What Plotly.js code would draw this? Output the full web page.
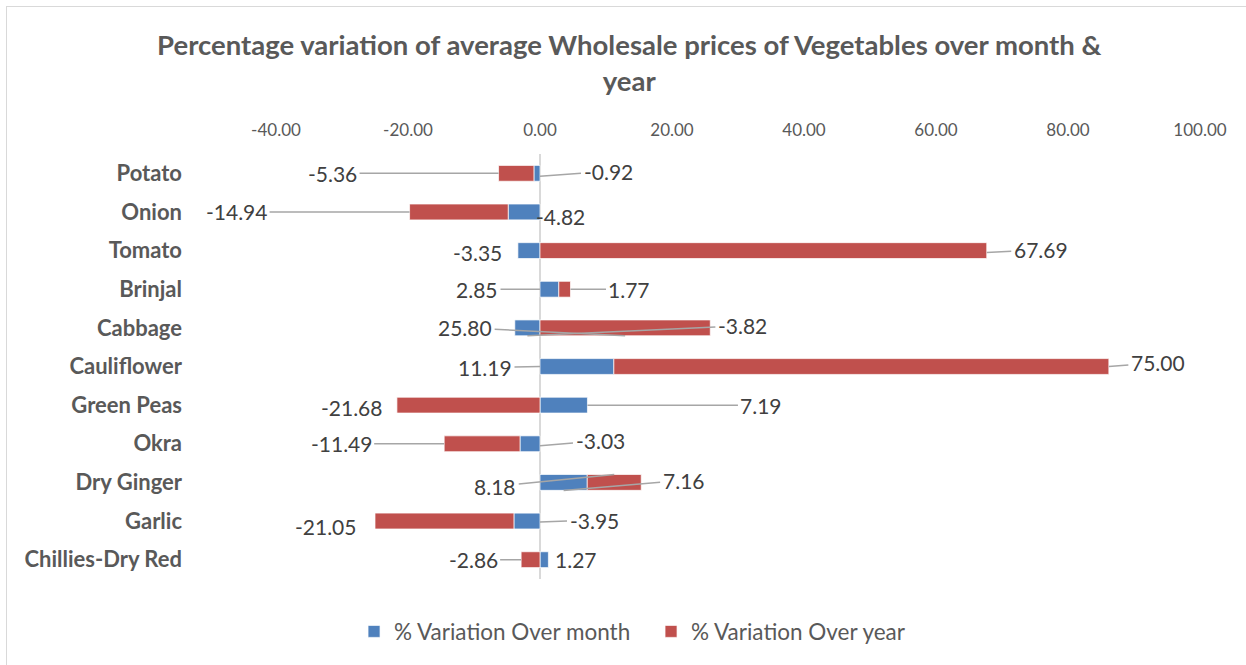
<!DOCTYPE html>
<html>
<head>
<meta charset="utf-8">
<script src="https://cdn.plot.ly/plotly-3.0.1.min.js"></script>
<style>
  html, body { margin: 0; padding: 0; background: #ffffff; }
  #chart { width: 1246px; height: 665px; }
  #frame { position: absolute; left: 6px; top: 6px; width: 1300px; height: 700px;
           border-left: 1px solid #d9d9d9; border-top: 1px solid #d9d9d9; pointer-events: none; }
</style>
</head>
<body>
<div id="chart"></div>
<div id="frame"></div>
<script>
// ---- data ----
const categories = ["Potato", "Onion", "Tomato", "Brinjal", "Cabbage", "Cauliflower",
                    "Green Peas", "Okra", "Dry Ginger", "Garlic", "Chillies-Dry Red"];
const overMonth = [-0.92, -4.82, -3.35, 2.85, -3.82, 11.19, 7.19, -3.03, 7.16, -3.95, 1.27];
const overYear  = [-5.36, -14.94, 67.69, 1.77, 25.80, 75.00, -21.68, -11.49, 8.18, -21.05, -2.86];
const seriesNames = ["% Variation Over month", "% Variation Over year"];
const tickValues = [-40, -20, 0, 20, 40, 60, 80, 100];

// ---- label placement (style: anchor fraction along the bar segment, pixel offsets, leader line) ----
// [frac, anchorDy(px, down), ax, ay, line]
const monthLabelPos = [
  [0, 3, 68, -5, true],
  [1, 0, 52, 5, false],
  [1, 0, -40, 2, false],
  [0, 0, -63, 0, true],
  [0.5, 8, 215, -10, true],
  [0, 0, -55, 1, true],
  [1, 0, 174, 0, true],
  [0, 2, 60, -5, true],
  [0.5, 8, 120, -10, true],
  [0, 1, 54, -2, true],
  [1, 0, 28, 0, false]
];
const yearLabelPos = [
  [1, 0, -166, 0, true],
  [1, 0, -173, 0, true],
  [1, 2, 54, -3, true],
  [1, 0, 59, 0, true],
  [0.5, 8, -160, -8, true],
  [1, 0, 49, -4, true],
  [1, 0, -45, 2, false],
  [1, 0, -103, 0, true],
  [0.5, -8, -119, 12, true],
  [1, 0, -50, 5, false],
  [1, 0, -48, 0, true]
];

const BLUE = "#4F81BD", RED = "#C0504D";
const FONT = "Lato, 'Open Sans', sans-serif";

// segment bases (relative stacking: positives and negatives stack separately)
const monthBase = overMonth.map(() => 0);
const yearBase = overYear.map((v, i) => {
  const m = overMonth[i];
  return (Math.sign(v) === Math.sign(m)) ? m : 0;
});

const annotations = [];
function addLabels(values, bases, pos) {
  values.forEach((v, i) => {
    const p = pos[i];
    annotations.push({
      x: bases[i] + p[0] * v,
      y: categories[i],
      xref: "x", yref: "y",
      text: v.toFixed(2),
      showarrow: true,
      arrowhead: 0,
      arrowwidth: 1.5,
      arrowcolor: p[4] ? "#a6a6a6" : "rgba(0,0,0,0)",
      standoff: 0,
      ax: p[2], ay: p[3],
      axref: "pixel", ayref: "pixel",
      yshift: -p[1],
      font: { family: FONT, size: 21, color: "#404040" },
      borderpad: 2
    });
  });
}
addLabels(overMonth, monthBase, monthLabelPos);
addLabels(overYear, yearBase, yearLabelPos);

const traces = [
  {
    type: "bar", orientation: "h", name: seriesNames[0],
    y: categories, x: overMonth,
    marker: { color: BLUE, line: { color: "rgba(255,255,255,0.7)", width: 1 } },
    hoverinfo: "x+y"
  },
  {
    type: "bar", orientation: "h", name: seriesNames[1],
    y: categories, x: overYear,
    marker: { color: RED, line: { color: "rgba(255,255,255,0.7)", width: 1 } },
    hoverinfo: "x+y"
  }
];

const layout = {
  width: 1246, height: 665,
  paper_bgcolor: "#ffffff", plot_bgcolor: "#ffffff",
  margin: { l: 276, r: 46, t: 154, b: 86 },
  barmode: "relative",
  bargap: 0.59,
  title: {
    text: "Percentage variation of average Wholesale prices of Vegetables over month &<br>year",
    font: { family: FONT, size: 27.5, color: "#595959", weight: "bold" },
    xref: "container", x: 0.505, xanchor: "center",
    yref: "container", y: 0.917, yanchor: "top"
  },
  xaxis: {
    side: "top",
    range: [-40, 100],
    tickvals: tickValues,
    ticktext: tickValues.map(v => v.toFixed(2)),
    showgrid: false,
    zeroline: true, zerolinecolor: "#d9d9d9", zerolinewidth: 1.5,
    showline: false,
    ticks: "",
    ticklabelstandoff: 14,
    tickfont: { family: FONT, size: 17, color: "#595959" },
    fixedrange: true
  },
  yaxis: {
    type: "category",
    categoryorder: "array", categoryarray: categories,
    autorange: "reversed",
    showgrid: false, zeroline: false, showline: false,
    ticks: "",
    ticklabelstandoff: 93,
    tickfont: { family: FONT, size: 22, color: "#595959", weight: "bold" },
    fixedrange: true
  },
  legend: {
    orientation: "h",
    xref: "container", x: 0.5225, xanchor: "center",
    yref: "container", y: 0.05, yanchor: "middle",
    font: { family: FONT, size: 22.5, color: "#595959" },
    itemwidth: 30,
    entrywidth: 252
  },
  annotations: annotations,
  showlegend: true
};

Plotly.newPlot("chart", traces, layout, { displayModeBar: false, staticPlot: true });
</script>
</body>
</html>
